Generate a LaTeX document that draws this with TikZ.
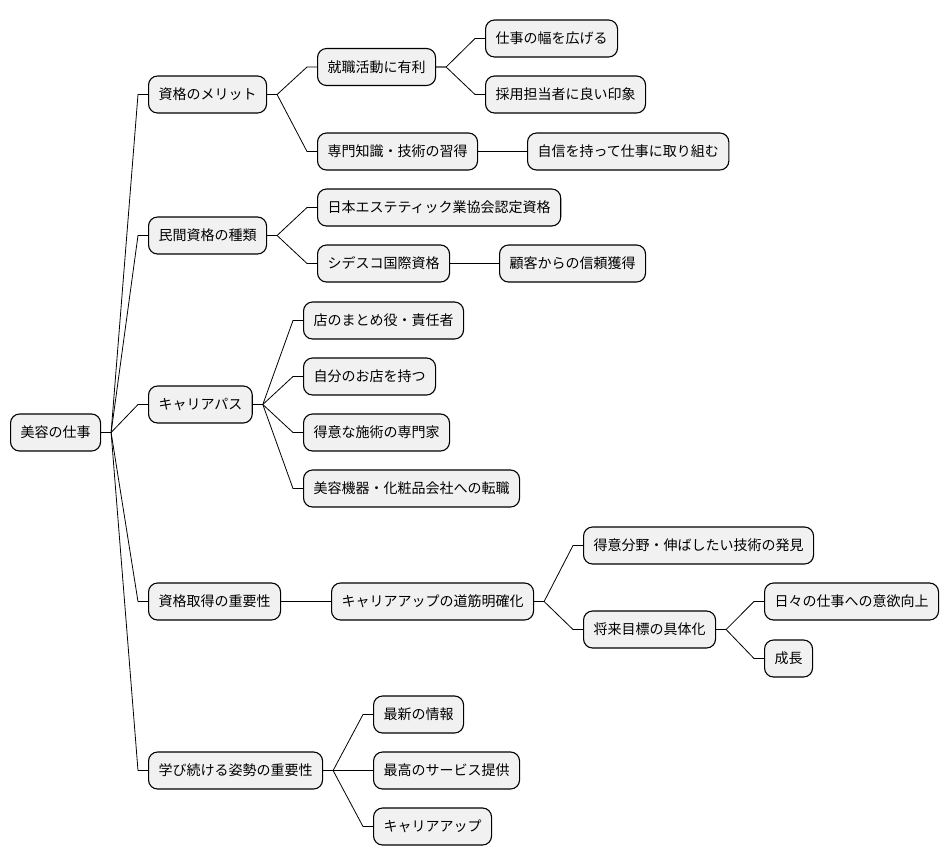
\documentclass[tikz,border=0pt]{standalone}
\usepackage{fontspec}
\setmainfont{Noto Sans CJK JP}
\usetikzlibrary{calc}
\tikzset{
  box/.style={draw=black, line width=1.1pt, fill=boxfill, rounded corners=9pt,
    minimum height=37pt, inner xsep=10pt, inner ysep=0pt, anchor=west,
    font=\fontsize{14}{16}\selectfont, text=black},
  edge/.style={line width=0.8pt, draw=black,
    to path={(\tikztostart) -- ++(10pt,0) coordinate (tmpA)
      .. controls ($(tmpA)!0.5!(\tikztotarget)+(-5pt,0)$ |- tmpA)
      and ($(tmpA)!0.5!(\tikztotarget)+(-5pt,0)$ |- \tikztotarget)
      .. ($(\tikztotarget)+(-10pt,0)$) -- (\tikztotarget)}}
}
\definecolor{boxfill}{HTML}{F1F1F1}
\begin{document}
\begin{tikzpicture}[x=1pt,y=-1pt]
\useasboundingbox (0,0) rectangle (950,865);
\node[box] (root) at (10,432.5) {美容の仕事};
\node[box] (a) at (148,94.5) {資格のメリット};
\node[box] (a1) at (317,67) {就職活動に有利};
\node[box] (a11) at (485,38.5) {仕事の幅を広げる};
\node[box] (a12) at (485,94.5) {採用担当者に良い印象};
\node[box] (a2) at (317,151.5) {専門知識・技術の習得};
\node[box] (a21) at (527,151.5) {自信を持って仕事に取り組む};
\node[box] (b) at (148,235.5) {民間資格の種類};
\node[box] (b1) at (317,207.5) {日本エステティック業協会認定資格};
\node[box] (b2) at (317,263.5) {シデスコ国際資格};
\node[box] (b21) at (499,263.5) {顧客からの信頼獲得};
\node[box] (c) at (148,404.5) {キャリアパス};
\node[box] (c1) at (303,320.5) {店のまとめ役・責任者};
\node[box] (c2) at (303,376.5) {自分のお店を持つ};
\node[box] (c3) at (303,432.5) {得意な施術の専門家};
\node[box] (c4) at (303,488.5) {美容機器・化粧品会社への転職};
\node[box] (d) at (148,601.5) {資格取得の重要性};
\node[box] (d1) at (331,601.5) {キャリアアップの道筋明確化};
\node[box] (d11) at (583,545.5) {得意分野・伸ばしたい技術の発見};
\node[box] (d12) at (583,629.5) {将来目標の具体化};
\node[box] (d121) at (764,601.5) {日々の仕事への意欲向上};
\node[box] (d122) at (764,658.5) {成長};
\node[box] (e) at (148,770.5) {学び続ける姿勢の重要性};
\node[box] (e1) at (373,714.5) {最新の情報};
\node[box] (e2) at (373,770.5) {最高のサービス提供};
\node[box] (e3) at (373,826.5) {キャリアアップ};
\foreach \p/\c in {root/a,root/b,root/c,root/d,root/e,a/a1,a/a2,a1/a11,a1/a12,a2/a21,
  b/b1,b/b2,b2/b21,c/c1,c/c2,c/c3,c/c4,d/d1,d1/d11,d1/d12,d12/d121,d12/d122,e/e1,e/e2,e/e3}
  \draw[edge] (\p.east) to (\c.west);
\end{tikzpicture}
\end{document}
